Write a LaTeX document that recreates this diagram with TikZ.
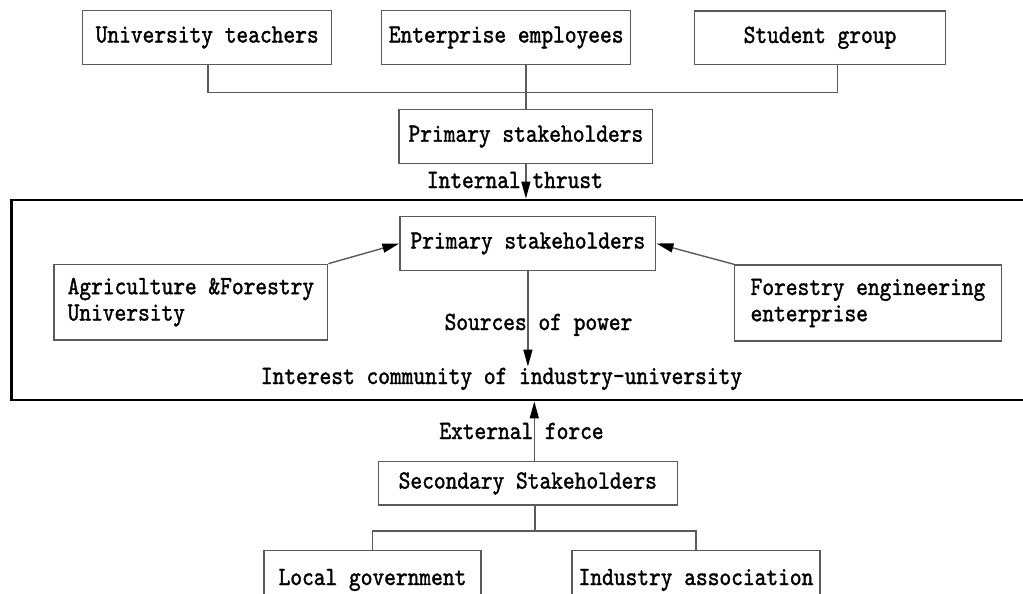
\documentclass[tikz,border=0pt]{standalone}
\usepackage{fontspec}
\setmonofont{lmmono10-regular.otf}[FakeStretch=0.85,FakeBold=1.4]
\usetikzlibrary{arrows.meta}
\definecolor{linegray}{RGB}{90,90,90}

\begin{document}
\begin{tikzpicture}[
    x=1pt, y=-1pt,
    every node/.style={font=\fontsize{26.3}{26.3}\selectfont\ttfamily},
    box/.style={rectangle, draw=linegray, line width=1.4pt, inner sep=0pt, minimum height=53.5pt},
    label/.style={inner sep=1pt, anchor=base},
    link/.style={draw=linegray, line width=1.4pt},
    arrow/.style={-{Triangle[length=17pt,width=9pt,color=black]}, draw=linegray, line width=1.4pt}
]
\useasboundingbox (0,0) rectangle (1023,594);

% outer frame, runs off the right edge
\node[draw=black, line width=2.4pt, minimum width=1023.5pt, minimum height=200.5pt] (frame) at (523.25,300) {};

% first row
\node[box, minimum width=249pt] (teachers) at (207.2,37.5) {University teachers};
\node[box, minimum width=249pt] (employees) at (506.2,37.5) {Enterprise employees};
\node[box, minimum width=250.6pt] (students) at (820,37.8) {Student group};
\node[box, minimum width=253.7pt, minimum height=54pt] (primary) at (525.9,136.7) {Primary stakeholders};

\coordinate (tdrop) at (208,92.5);
\coordinate (sdrop) at (837.3,92.5);
\draw[link] (tdrop |- teachers.south) -- (tdrop) -- (sdrop) -- (sdrop |- students.south);
\draw[link] (employees.south -| primary.north) -- (primary.north);

\node[label] (thrust) at (514.9,188) {Internal thrust};
\draw[arrow] (primary.south) -- (primary.south |- frame.north);

% inside the frame
\node[box, minimum width=255.7pt, minimum height=53.6pt] (hub) at (527.9,243.5) {Primary stakeholders};
\node[box, minimum width=273.7pt, minimum height=75.7pt, align=left] (agri) at (190.9,302.2) {Agriculture \&Forestry\\University};
\node[box, minimum width=266.6pt, minimum height=76pt, align=left] (forestry) at (868,303) {Forestry engineering\\enterprise};
\node[label] (power) at (538.5,330) {Sources of power};
\node[label] (community) at (501.5,384) {Interest community of industry-university};

\draw[arrow] (agri.north east) -- (hub.west);
\draw[arrow] (forestry.north west) -- (hub.east);
\draw[arrow] (hub.south) -- (hub.south |- community.north);

% second row
\node[box, minimum width=299pt, minimum height=43.3pt] (second) at (527.8,483.4) {Secondary Stakeholders};
\node[label] (force) at (521.5,439) {External force};
\draw[arrow] ([xshift=6.5pt]second.north) -- ([xshift=6.5pt]second.north |- frame.south);

\node[box, minimum width=217pt, minimum height=58.6pt] (local) at (372.5,580) {Local government};
\node[box, minimum width=248pt, minimum height=58.6pt] (assoc) at (696,580) {Industry association};

\coordinate (fork) at (535,531);
\draw[link] (second.south -| fork) -- (fork);
\draw[link] (local.north) |- (fork) -| (assoc.north);
\end{tikzpicture}
\end{document}
